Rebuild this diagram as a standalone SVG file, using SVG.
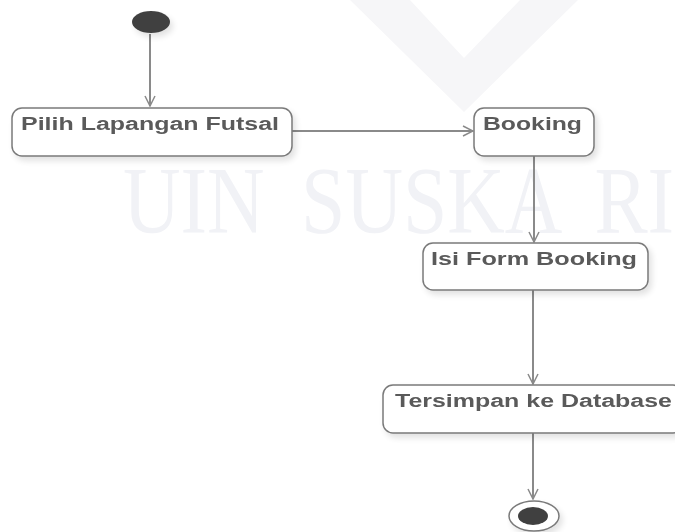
<svg xmlns="http://www.w3.org/2000/svg" width="675" height="532" viewBox="0 0 675 532">
  <defs>
    <style>
      .node rect { fill: #ffffff; stroke: #7a7a7a; stroke-width: 1.5; }
      .label { font-family: "Liberation Sans", Arial, sans-serif; font-weight: bold; font-size: 18px; fill: #5a5a5a; }
      .flow line { stroke: #8a8a8a; stroke-width: 2; marker-end: url(#open); }
      .mark { font-family: "Liberation Serif", "Times New Roman", serif; font-size: 96px; fill: #f1f2f6; word-spacing: 20px; }
    </style>
    <marker id="open" viewBox="0 0 12 12" refX="11" refY="6" markerWidth="12" markerHeight="12" markerUnits="userSpaceOnUse" orient="auto">
      <path d="M1,1 L11,6 L1,11" fill="none" stroke="#8a8a8a" stroke-width="1.5"/>
    </marker>
    <filter id="shadow" x="-10%" y="-20%" width="130%" height="160%">
      <feGaussianBlur in="SourceAlpha" stdDeviation="3"/>
      <feOffset dx="3" dy="4" result="b"/>
      <feComponentTransfer><feFuncA type="linear" slope="0.12"/></feComponentTransfer>
      <feMerge><feMergeNode/><feMergeNode in="SourceGraphic"/></feMerge>
    </filter>
  </defs>

  <rect width="675" height="532" fill="#ffffff"/>

  <!-- faint background emblem and lettering -->
  <g id="watermark">
    <polygon points="350,0 410,0 464,58 520,0 578,0 464,112" fill="#f6f6f8"/>
    <text class="mark" transform="translate(123,233) scale(0.83,1)" x="0" y="0">UIN SUSKA RI</text>
  </g>

  <!-- transitions -->
  <g id="connectors" class="flow">
    <line x1="150" y1="34" x2="150" y2="106"/>
    <line x1="292" y1="131" x2="473" y2="131"/>
    <line x1="534" y1="156" x2="534" y2="242"/>
    <line x1="533" y1="290" x2="533" y2="384"/>
    <line x1="533" y1="433" x2="533" y2="499"/>
  </g>

  <g id="start" filter="url(#shadow)">
    <ellipse cx="151" cy="22" rx="19" ry="11" fill="#404040"/>
  </g>

  <g id="pilih-lapangan" class="node" filter="url(#shadow)">
    <rect x="12" y="108" width="280" height="48" rx="10"/>
    <text class="label" x="21" y="130" textLength="258" lengthAdjust="spacingAndGlyphs">Pilih Lapangan Futsal</text>
  </g>

  <g id="booking" class="node" filter="url(#shadow)">
    <rect x="474" y="108" width="120" height="48" rx="10"/>
    <text class="label" x="483" y="130" textLength="99" lengthAdjust="spacingAndGlyphs">Booking</text>
  </g>

  <g id="isi-form" class="node" filter="url(#shadow)">
    <rect x="423" y="243" width="225" height="47" rx="10"/>
    <text class="label" x="431" y="265" textLength="206" lengthAdjust="spacingAndGlyphs">Isi Form Booking</text>
  </g>

  <g id="tersimpan" class="node" filter="url(#shadow)">
    <rect x="383" y="385" width="300" height="48" rx="10"/>
    <text class="label" x="395" y="407" textLength="277" lengthAdjust="spacingAndGlyphs">Tersimpan ke Database</text>
  </g>

  <g id="end" filter="url(#shadow)">
    <ellipse cx="534" cy="516" rx="25" ry="15" fill="#ffffff" stroke="#7a7a7a" stroke-width="1.5"/>
    <ellipse cx="533" cy="516" rx="15" ry="9" fill="#404040"/>
  </g>
</svg>
